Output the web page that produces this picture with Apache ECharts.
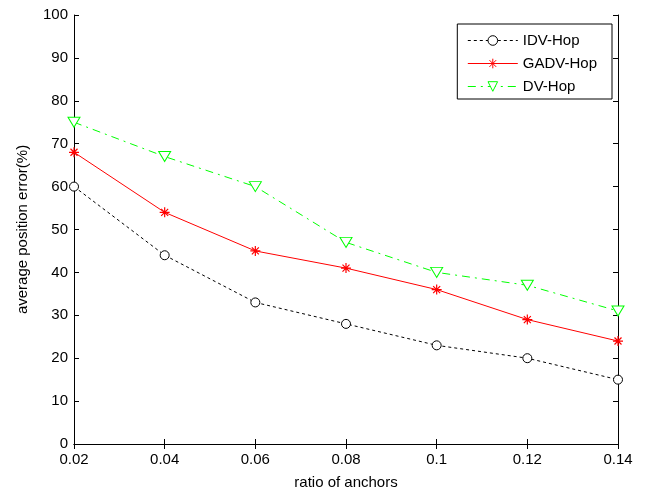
<!DOCTYPE html>
<html><head><meta charset="utf-8">
<script src="https://cdn.jsdelivr.net/npm/echarts@6/dist/echarts.min.js"></script>
<style>html,body{margin:0;padding:0;background:#fff}#c{width:650px;height:491px}</style>
</head><body><div id="c"></div>
<script>
const categories = ['0.02','0.04','0.06','0.08','0.1','0.12','0.14'];
const idvHop = [60, 44, 33, 28, 23, 20, 15];
const gadvHop = [68, 54, 45, 41, 36, 29, 24];
const dvHop = [75, 67, 60, 47, 40, 37, 31];
const yTicks = [0,10,20,30,40,50,60,70,80,90,100];

const chart = echarts.init(document.getElementById('c'));
const font = 'Liberation Sans, Arial, sans-serif';
const star = 'path://M0,-1L0,1M-1,0L1,0M-0.7,-0.7L0.7,0.7M-0.7,0.7L0.7,-0.7';
const axisLine = {show:true, lineStyle:{color:'#000', width:1}};
const tick = {show:true, inside:true, length:5, lineStyle:{color:'#000'}};
chart.setOption({
  animation:false,
  grid:{left:74, top:15, right:32, bottom:47, outerBoundsMode:'none', containLabel:false},
  legend:{
    orient:'vertical', right:38, top:24,
    backgroundColor:'#fff', borderColor:'#000', borderWidth:1,
    padding:[9,15,5,10], itemGap:8, itemWidth:50, itemHeight:12,
    textStyle:{fontFamily:font, fontSize:15, color:'#000'},
    lineStyle:{width:1},
    itemStyle:{borderWidth:1},
    data:['IDV-Hop','GADV-Hop','DV-Hop']
  },
  xAxis:[{
    type:'category', data:categories, boundaryGap:false,
    name:'ratio of anchors', nameLocation:'middle', nameGap:31,
    nameTextStyle:{fontFamily:font, fontSize:15, color:'#000'},
    axisLine:axisLine, axisTick:tick,
    axisLabel:{fontFamily:font, fontSize:15, color:'#000', margin:8},
    splitLine:{show:false}
  },{
    type:'category', data:categories, boundaryGap:false, position:'top',
    axisLine:axisLine, axisTick:tick,
    axisLabel:{show:false}, splitLine:{show:false}
  }],
  yAxis:[{
    type:'value', min:0, max:100, interval:10,
    name:'average position error(%)', nameLocation:'middle', nameGap:44,
    nameTextStyle:{fontFamily:font, fontSize:15, color:'#000'},
    axisLine:axisLine, axisTick:tick,
    axisLabel:{fontFamily:font, fontSize:15, color:'#000', margin:6,
      formatter:v=>yTicks.includes(v)?String(v):''},
    splitLine:{show:false}
  },{
    type:'value', min:0, max:100, interval:10, position:'right',
    axisLine:axisLine, axisTick:tick,
    axisLabel:{show:false}, splitLine:{show:false}
  }],
  series:[{
    name:'IDV-Hop', type:'line', data:idvHop,
    symbol:'circle', symbolSize:9, showAllSymbol:true,
    lineStyle:{color:'#000', width:1, type:[3,3]},
    itemStyle:{color:'#fff', borderColor:'#000', borderWidth:1}
  },{
    name:'GADV-Hop', type:'line', data:gadvHop,
    symbol:star, symbolSize:10, showAllSymbol:true,
    lineStyle:{color:'#ff0000', width:1},
    itemStyle:{color:'#ff0000', borderColor:'#ff0000', borderWidth:1.2}
  },{
    name:'DV-Hop', type:'line', data:dvHop,
    symbol:'triangle', symbolRotate:180, symbolSize:[12,10], showAllSymbol:true,
    lineStyle:{color:'#00ff00', width:1, type:[8,5,2,5]},
    itemStyle:{color:'#fff', borderColor:'#00ff00', borderWidth:1}
  }]
});
</script></body></html>
